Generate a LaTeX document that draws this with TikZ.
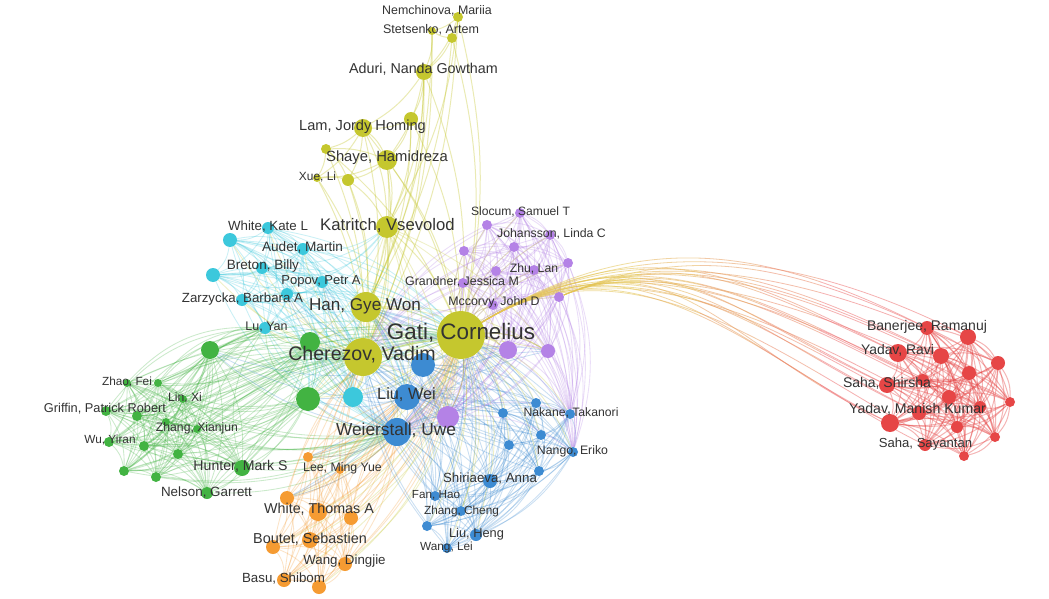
\documentclass[tikz,border=0pt]{standalone}
\usepackage{fontspec}
\setmainfont{Liberation Sans}
\usetikzlibrary{calc}
\pgfdeclarelayer{background}
\pgfsetlayers{background,main}
\definecolor{yel}{HTML}{C5C72E}
\definecolor{cy}{HTML}{3CC8DC}
\definecolor{gr}{HTML}{42B342}
\definecolor{pu}{HTML}{B482E6}
\definecolor{bl}{HTML}{3D8BD2}
\definecolor{org}{HTML}{F59B32}
\definecolor{rd}{HTML}{E64646}
\definecolor{txt}{HTML}{333333}
\definecolor{gold}{HTML}{E4C453}
\definecolor{salmon}{HTML}{EE7070}
\newcommand\fullgraph[3]{%
  \foreach \i in {1,...,#2}{\foreach \j in {1,...,#2}{%
    \ifnum\i<\j \draw[#3] (#1\i) to[bend left=18] (#1\j);\fi}}}
\tikzset{
  dot/.style={circle, fill=#1, inner sep=0pt, draw=none},
  lab/.style={font=\fontsize{#1}{#1}\selectfont, text=txt, inner sep=0pt},
  ed/.style={draw=#1, line width=0.85pt, opacity=0.27},
  yed/.style={draw=yel, line width=1pt, opacity=0.36},
  longed/.style={draw=#1, line width=0.8pt, opacity=0.55},
}
\begin{document}
\begin{tikzpicture}[x=1pt,y=-1pt]
\path[use as bounding box] (0,0) rectangle (1049,599);
% ---------- nodes ----------
\foreach \n/\x/\y/\r/\c in {
 y1/458/17/5/yel, y2/452/38/5/yel, y3/432/31/4/yel, y4/424/72/8/yel, y5/411/119/7/yel,
 y6/363/128/9/yel, y7/326/149/5/yel, y8/387/160/10/yel, y9/317/178/4/yel, y10/348/180/6/yel,
 y11/387/227/11/yel, y12/366/307/15/yel, y13/461/335/24/yel, y14/363/357/19/yel,
 c1/268/228/6/cy, c2/230/240/7/cy, c3/303/249/6/cy, c4/262/268/6/cy, c5/213/275/7/cy,
 c6/322/282/6/cy, c7/287/294/6/cy, c8/242/300/6/cy, c9/265/328/6/cy, c10/353/397/10/cy,
 g1/210/350/9/gr, g2/310/342/10/gr, g3/308/399/12/gr, g4/127/383/4/gr, g5/158/383/4/gr,
 g6/183/399/4/gr, g7/106/411/5/gr, g8/137/416/5/gr, g9/166/422/4/gr, g10/197/429/4/gr,
 g11/109/442/5/gr, g12/144/446/5/gr, g13/178/454/5/gr, g14/124/471/5/gr, g15/156/477/5/gr,
 g16/242/468/8/gr, g17/207/493/6/gr,
 o1/308/457/5/org, o2/340/470/4/org, o3/287/498/7/org, o4/318/512/9/org, o5/351/518/7/org,
 o6/310/540/8/org, o7/273/547/7/org, o8/345/564/7/org, o9/284/580/7/org, o10/319/587/7/org,
 b1/423/365/12/bl, b2/407/397/13/bl, b3/397/432/14/bl, b4/503/413/5/bl, b5/536/403/5/bl,
 b6/570/414/5/bl, b7/541/435/5/bl, b8/509/445/5/bl, b9/573/452/5/bl, b10/539/471/5/bl,
 b11/490/481/7/bl, b12/435/496/5/bl, b13/461/511/5/bl, b14/427/526/5/bl, b15/476/535/6/bl,
 b16/447/548/5/bl,
 p1/520/213/5/pu, p2/487/225/5/pu, p3/550/235/5/pu, p4/464/251/5/pu, p5/514/247/5/pu,
 p6/568/263/5/pu, p7/534/270/5/pu, p8/496/271/5/pu, p9/463/283/5/pu, p10/493/305/5/pu,
 p11/559/297/5/pu, p12/508/350/9/pu, p13/548/351/7/pu, p14/448/417/11/pu,
 r1/927/328/7/rd, r2/968/337/8/rd, r3/898/353/9/rd, r4/941/356/8/rd, r5/998/363/7/rd,
 r6/969/373/7/rd, r7/887/385/8/rd, r8/923/380/6/rd, r9/949/397/7/rd, r10/1010/402/5/rd,
 r11/919/413/7/rd, r12/980/407/6/rd, r13/890/423/9/rd, r14/957/427/6/rd, r15/995/437/5/rd,
 r16/925/445/6/rd, r17/964/456/5/rd}
 {\node[dot=\c, minimum size={2*\r*1pt}] (\n) at (\x,\y) {};}
% ---------- edges ----------
\begin{pgfonlayer}{background}
\fill[white] (0,0) rectangle (1049,599);
\fullgraph{r}{17}{ed=rd, opacity=0.4, line width=1pt}
\fullgraph{c}{10}{ed=cy}
\fullgraph{g}{17}{ed=gr}
\fullgraph{o}{10}{ed=org}
\fullgraph{b}{16}{ed=bl}
\fullgraph{p}{14}{ed=pu}
\foreach \a/\b in {y1/y2,y1/y3,y2/y3,y1/y4,y2/y4,y3/y4,y4/y5,y4/y6,y4/y8,y4/y11,y4/y12,y4/y13,
  y4/y14,y1/y13,y2/y13,y2/y12,y3/y14,y1/y11,y5/y6,y5/y8,y5/y11,y5/y13,y5/y12,y6/y7,y6/y8,
  y6/y9,y6/y10,y6/y11,y6/y14,y6/y13,y7/y8,y7/y9,y7/y10,y7/y14,y8/y9,y8/y10,y8/y11,y8/y12,
  y8/y13,y8/y14,y9/y10,y9/y14,y10/y11,y10/y14,y10/y12,y11/y12,y11/y13,y11/y14,y12/y13,
  y12/y14,y13/y14,y7/y13,y9/y12,y3/y12,y1/y14}
  {\draw[yed] (\a) to[bend left=12] (\b);}
\foreach \n in {c1,c2,c3,c4,c5,c6,c7,c8,c9,c10}
  {\draw[ed=cy] (\n) to[bend left=18] (y14); \draw[ed=cy] (\n) to[bend left=18] (y13);
   \draw[ed=cy] (\n) to[bend right=25] (b3); \draw[ed=cy] (\n) to[bend left=15] (y12);
   \draw[ed=yel] (y14) to[bend left=15] (\n);}
\foreach \n in {c1,c2,c4,c5,c8}
  {\draw[ed=cy] (\n) to[bend left=40] (g3); \draw[ed=cy] (\n) to[bend left=35] (b2);
   \draw[ed=cy] (\n) to[bend right=35] (y11);}
\foreach \n in {g1,g2,g3,g4,g5,g6,g7,g8,g9,g10,g11,g12,g13,g14,g15,g16,g17}
  {\draw[ed=gr] (\n) to[bend left=18] (y14); \draw[ed=gr] (\n) to[bend left=15] (y13);
   \draw[ed=gr] (\n) to[bend right=18] (b3); \draw[ed=gr] (\n) to[bend left=25] (c9);}
\foreach \n in {o1,o2,o3,o4,o5,o6,o7,o8,o9,o10}
  {\draw[ed=org] (\n) to[bend right=18] (y13); \draw[ed=org] (\n) to[bend left=12] (y14);
   \draw[ed=org] (\n) to[bend right=15] (b3); \draw[ed=org] (\n) to[bend left=15] (b2);
   \draw[ed=yel] (y13) to[bend left=22] (\n);}
\foreach \n in {b4,b5,b6,b7,b8,b9,b10,b11,b12,b13,b14,b15,b16}
  {\draw[ed=bl] (\n) to[bend right=15] (y13); \draw[ed=bl] (\n) to[bend left=15] (y14);
   \draw[ed=bl] (\n) to[bend right=15] (y12); \draw[ed=yel] (y13) to[bend left=18] (\n);}
\foreach \n in {p1,p2,p3,p4,p5,p6,p7,p8,p9,p10,p11,p12,p13,p14}
  {\draw[ed=pu] (\n) to[bend right=15] (y13); \draw[ed=pu] (\n) to[bend right=18] (y14);
   \draw[ed=pu] (\n) to[bend left=20] (b3); \draw[ed=pu] (\n) to[bend left=20] (b6);
   \draw[ed=pu] (\n) to[bend left=20] (b9); \draw[ed=yel] (y13) to[bend left=15] (\n);}
\foreach \n in {y11,y12,y13,y14}
  {\foreach \m in {b1,b2,b3,c10,g2,g3,p12,p13,p14}{\draw[ed=yel] (\n) to[bend left=15] (\m);}}
\foreach \n in {b1,b2,b3}
  {\foreach \m in {c10,g2,g3,g1,p12,p13,p14,c6,c7,o1,o3}{\draw[ed=bl] (\n) to[bend left=15] (\m);}}
% long edges to the red cluster, colour shifting from gold to salmon in bands
\foreach \xa/\xb/\col in {0/640/gold, 640/700/gold!80!salmon, 700/760/gold!55!salmon,
    760/820/gold!30!salmon, 820/1049/salmon}{
  \begin{scope}
  \clip (\xa,0) rectangle (\xb,599);
  \foreach \i in {1,...,17}{
    \draw[longed=\col] (y13) .. controls ($(y13)+(180,-110)$) and ($(r\i)+(-160,-80)$) .. (r\i);}
  \foreach \i in {1,3,4,7,8,11,13}{
    \draw[longed=\col] (p11) .. controls ($(p11)+(120,-50)$) and ($(r\i)+(-150,-70)$) .. (r\i);}
  \end{scope}}
\end{pgfonlayer}
% ---------- labels ----------
\node[lab=12.4] (L1) at (437,11) {Nemchinova, Mariia};
\node[lab=12.5] (L2) at (431,30) {Stetsenko, Artem};
\node[lab=14.3] (L3) at (423.5,69) {Aduri, Nanda Gowtham};
\node[lab=14.6] (L4) at (362.5,127) {Lam, Jordy Homing};
\node[lab=14.8] (L5) at (387,158) {Shaye, Hamidreza};
\node[lab=11.9] (L6) at (317.5,177) {Xue, Li};
\node[lab=16.7] (L7) at (387.5,226) {Katritch, Vsevolod};
\node[lab=17.1] (L8) at (365,306) {Han, Gye Won};
\node[lab=22.4] (L9) at (461,333) {Gati, Cornelius};
\node[lab=19.6] (L10) at (362,355) {Cherezov, Vadim};
\node[lab=13.3] (L11) at (268,227) {White, Kate L};
\node[lab=13.6] (L12) at (302.5,247) {Audet, Martin};
\node[lab=13.5] (L13) at (263,266) {Breton, Billy};
\node[lab=13.0] (L14) at (321,281) {Popov, Petr A};
\node[lab=13.3] (L15) at (242.5,299) {Zarzycka, Barbara A};
\node[lab=12.5] (L16) at (266.5,327) {Lu, Yan};
\node[lab=11.8] (L17) at (127,382) {Zhao, Fei};
\node[lab=12.2] (L18) at (185,398) {Lin, Xi};
\node[lab=12.8] (L19) at (105,409) {Griffin, Patrick Robert};
\node[lab=12.2] (L20) at (197,428) {Zhang, Xianjun};
\node[lab=11.8] (L21) at (110,440) {Wu, Yiran};
\node[lab=14.1] (L22) at (240.5,466) {Hunter, Mark S};
\node[lab=13.4] (L23) at (206.5,492) {Nelson, Garrett};
\node[lab=12.3] (L24) at (342.5,468) {Lee, Ming Yue};
\node[lab=14.3] (L25) at (319,509) {White, Thomas A};
\node[lab=14.4] (L26) at (310,539) {Boutet, Sebastien};
\node[lab=13.3] (L27) at (344.5,561) {Wang, Dingjie};
\node[lab=13.3] (L28) at (283.5,579) {Basu, Shibom};
\node[lab=16.3] (L29) at (406.5,395) {Liu, Wei};
\node[lab=17.3] (L30) at (396,430) {Weierstall, Uwe};
\node[lab=12.2] (L31) at (571,413) {Nakane, Takanori};
\node[lab=12.3] (L32) at (572.5,451) {Nango, Eriko};
\node[lab=13.3] (L33) at (490,479) {Shiriaeva, Anna};
\node[lab=11.7] (L34) at (436,495) {Fan, Hao};
\node[lab=11.8] (L35) at (461.5,511) {Zhang, Cheng};
\node[lab=12.8] (L36) at (476.5,534) {Liu, Heng};
\node[lab=11.8] (L37) at (446.5,547) {Wang, Lei};
\node[lab=12.1] (L38) at (520.5,212) {Slocum, Samuel T};
\node[lab=12.3] (L39) at (551.5,234) {Johansson, Linda C};
\node[lab=12.2] (L40) at (534,269) {Zhu, Lan};
\node[lab=12.4] (L41) at (462,282) {Grandner, Jessica M};
\node[lab=12.4] (L42) at (494,302) {Mccorvy, John D};
\node[lab=14.0] (L43) at (927,327) {Banerjee, Ramanuj};
\node[lab=13.9] (L44) at (897.5,350) {Yadav, Ravi};
\node[lab=14.0] (L45) at (887,383) {Saha, Shirsha};
\node[lab=14.1] (L46) at (917.5,409) {Yadav, Manish Kumar};
\node[lab=13.1] (L47) at (925.5,444) {Saha, Sayantan};
\end{tikzpicture}
\end{document}
